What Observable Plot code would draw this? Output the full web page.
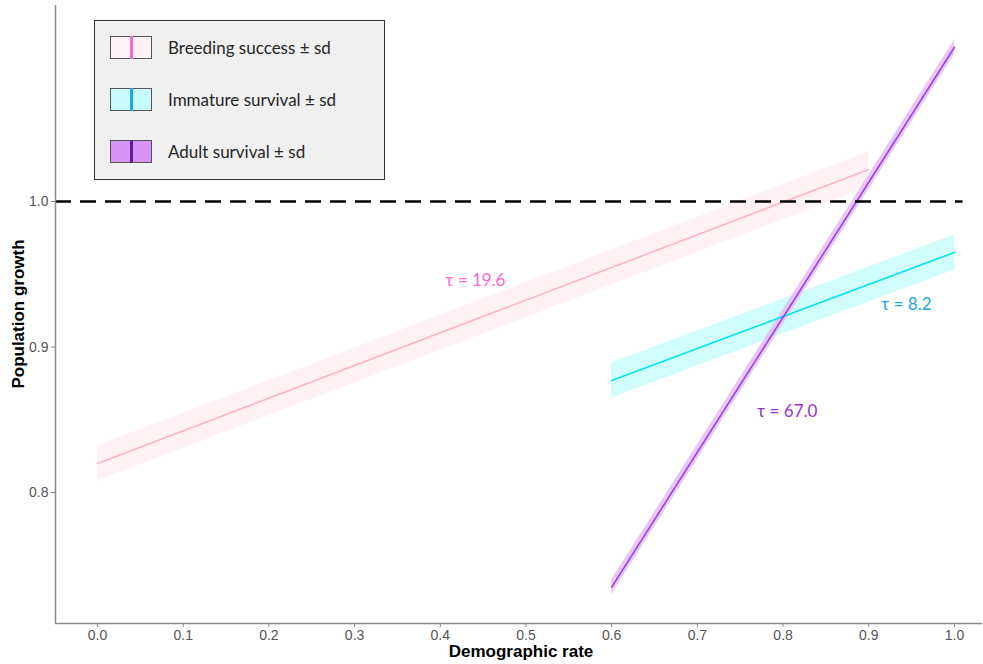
<!DOCTYPE html>
<html>
<head>
<meta charset="utf-8">
<script src="https://cdn.jsdelivr.net/npm/d3@7"></script>
<script src="https://cdn.jsdelivr.net/npm/@observablehq/plot@0.6"></script>
<style>
  html, body { margin: 0; padding: 0; background: #fff; }
  #wrap { position: relative; width: 983px; height: 664px; }
  #legend {
    position: absolute; left: 94px; top: 20px; width: 291px; height: 160px;
    background: #f0f0f0; border: 1.5px solid #333; box-sizing: border-box;
    font-family: Lato, "Open Sans", sans-serif; font-size: 17px; color: #262626;
  }
  .item { position: absolute; left: 15px; height: 24px; display: flex; align-items: center; }
  .sw { position: relative; width: 42px; height: 23px; border: 1.5px solid #555; box-sizing: border-box; margin-right: 16px; }
  .sw span { position: absolute; left: 19px; top: -1px; width: 3px; height: 23px; }
</style>
</head>
<body>
<div id="wrap">
  <div id="chart"></div>
  <div id="legend"></div>
</div>
<script>
// ---- Data ----
const seriesNames = ["Breeding success", "Immature survival", "Adult survival"];
const xStart = [0.0, 0.6, 0.6];
const xEnd = [0.9, 1.0, 1.0];
const yStart = [0.820, 0.877, 0.735];
const yEnd = [1.022, 0.965, 1.106];
const sdStart = [0.012, 0.012, 0.005];
const sdEnd = [0.012, 0.012, 0.005];
const tauLabels = ["τ = 19.6", "τ = 8.2", "τ = 67.0"];
const tauX = [0.441, 0.944, 0.805];
const tauY = [0.946, 0.929, 0.856];
const xTicks = [0, 0.1, 0.2, 0.3, 0.4, 0.5, 0.6, 0.7, 0.8, 0.9, 1.0];
const yTicks = [0.8, 0.9, 1.0];
const threshold = 1.0;

// ---- Styles ----
const lineColors = ["#ffb6c1", "#00e5ee", "#a040e8"];
const bandColors = ["#ffeef2", "#c8fcfc", "#e2bdf7"];
const textColors = ["#ff66cc", "#1aa8e0", "#9933cc"];
const legendLineColors = ["#ff66cc", "#1aa8e0", "#6a1a9a"];
const legendFill = ["#fff2f4", "#c8fcfc", "#d493f5"];

const rows = [];
seriesNames.forEach((s, i) => {
  rows.push({series: s, x: xStart[i], y: yStart[i], lo: yStart[i] - sdStart[i], hi: yStart[i] + sdStart[i]});
  rows.push({series: s, x: xEnd[i], y: yEnd[i], lo: yEnd[i] - sdEnd[i], hi: yEnd[i] + sdEnd[i]});
});
const labels = tauLabels.map((t, i) => ({series: seriesNames[i], text: t, x: tauX[i], y: tauY[i]}));

const axisFont = "'Liberation Sans', Arial, sans-serif";

const plot = Plot.plot({
  width: 983,
  height: 664,
  marginLeft: 55,
  marginRight: 1,
  marginTop: 5,
  marginBottom: 41,
  style: {fontFamily: axisFont, background: "#fff"},
  x: {domain: [-0.049, 1.0327], ticks: xTicks, tickFormat: d3.format(".1f"), label: null},
  y: {domain: [0.71, 1.1347], ticks: yTicks, tickFormat: d3.format(".1f"), label: null},
  marks: [
    ...seriesNames.map((s, i) => Plot.areaY(rows.filter(r => r.series === s), {x: "x", y1: "lo", y2: "hi", fill: bandColors[i], fillOpacity: 0.85})),
    ...seriesNames.map((s, i) => Plot.line(rows.filter(r => r.series === s), {x: "x", y: "y", stroke: lineColors[i], strokeWidth: 1.6})),
    Plot.ruleY([threshold], {x1: -0.049, x2: 1.01, stroke: "#000", strokeWidth: 2.4, strokeDasharray: "16,9"}),
    ...labels.map((l, i) => Plot.text([l], {x: "x", y: "y", text: "text", fill: textColors[i], fontSize: 17, fontFamily: "Lato, 'Open Sans', sans-serif"})),
    Plot.axisX({ticks: xTicks, tickFormat: d3.format(".1f"), stroke: "#888", color: "#555", tickSize: 4, tickPadding: 3, label: null}),
    Plot.axisY({ticks: yTicks, tickFormat: d3.format(".1f"), stroke: "#888", color: "#555", tickSize: 4, tickPadding: 3, label: null}),
    Plot.ruleX([-0.049], {stroke: "#888", strokeWidth: 1.5}),
    Plot.ruleY([0.71], {stroke: "#888", strokeWidth: 1.5}),
  ]
});

const svg = d3.select(plot);
// Enlarge tick labels (ggplot-like)
svg.selectAll("text").filter(function() { return /^\d\.\d$/.test(this.textContent.trim()); })
  .attr("font-size", 14).style("font-size", "14px").style("font-family", axisFont).style("fill", "#555");

// Axis titles
svg.append("text")
  .attr("x", 521).attr("y", 657)
  .attr("text-anchor", "middle")
  .attr("font-family", axisFont)
  .attr("font-weight", "bold").attr("font-size", 17).attr("fill", "#000")
  .text("Demographic rate");
svg.append("text")
  .attr("transform", "translate(24,314) rotate(-90)")
  .attr("text-anchor", "middle")
  .attr("font-family", axisFont)
  .attr("font-weight", "bold").attr("font-size", 17).attr("fill", "#000")
  .text("Population growth");

document.getElementById("chart").appendChild(plot);

// Legend
const legend = document.getElementById("legend");
const tops = [14, 66, 118];
seriesNames.forEach((s, i) => {
  const item = document.createElement("div");
  item.className = "item";
  item.style.top = tops[i] + "px";
  const sw = document.createElement("div");
  sw.className = "sw";
  sw.style.background = legendFill[i];
  const ln = document.createElement("span");
  ln.style.background = legendLineColors[i];
  sw.appendChild(ln);
  const tx = document.createElement("div");
  tx.textContent = s + " ± sd";
  item.appendChild(sw);
  item.appendChild(tx);
  legend.appendChild(item);
});
</script>
</body>
</html>
